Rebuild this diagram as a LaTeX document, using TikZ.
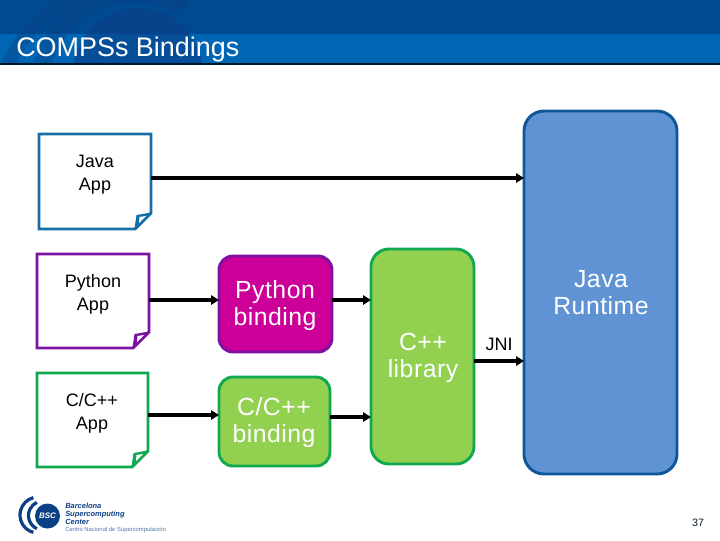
\documentclass[tikz,border=0pt]{standalone}
\usepackage{fontspec}
\setmainfont{Liberation Sans}
\newfontfamily\spacedfont[LetterSpace=2]{Liberation Sans}
\usetikzlibrary{arrows.meta}
\definecolor{hdark}{HTML}{004B90}
\definecolor{hlight}{HTML}{0066B4}
\definecolor{harc}{HTML}{0B3F86}
\definecolor{lblue}{HTML}{176FA8}
\definecolor{lpurple}{HTML}{7B12A0}
\definecolor{lgreen}{HTML}{12A850}
\definecolor{fgreen}{HTML}{92D050}
\definecolor{fmag}{HTML}{CC0099}
\definecolor{fblue}{HTML}{5F93D3}
\definecolor{lnavy}{HTML}{0F5698}
\definecolor{logob}{HTML}{0B3F86}
\tikzset{
  x=0.75pt,y=-0.75pt,
  note/.style={draw=#1,line width=2.2pt,fill=white,line join=miter},
  fold/.style={draw=#1,fill=#1,line width=0.8pt,line join=round},
  sliver/.style={fill=white},
  notetext/.style={text=black,font=\fontsize{13.5pt}{17.25pt}\selectfont,align=center,inner sep=0pt},
  blocktext/.style={text=white,font=\spacedfont\fontsize{18.6pt}{20.2pt}\selectfont,align=center,inner sep=0pt},
  blockbox/.style={line width=2.2pt,anchor=north west,inner sep=0pt,outer sep=0pt},
  conn/.style={line width=2.4pt,-{Triangle[length=6pt,width=7pt]}},
}
\begin{document}
\begin{tikzpicture}
\useasboundingbox (0,0) rectangle (720,540);
\fill[white] (0,0) rectangle (720,540);
% header
\fill[hdark] (0,0) rectangle (720,34);
\fill[hlight] (0,34) rectangle (720,63);
\begin{scope}
\clip (0,0) rectangle (720,63);
\draw[harc,line width=10.5pt,opacity=.4] ([shift={(180:127)}]125,115) arc[start angle=180,end angle=300,radius=127];
\draw[harc,line width=13pt,opacity=.4] ([shift={(180:96)}]135,90) arc[start angle=180,end angle=300,radius=96];
\fill[harc,opacity=.6] (138,72.5) circle (64.5);
\end{scope}
\fill[black!70!hdark] (0,63) rectangle (720,65);
\node[anchor=base west,inner sep=0pt,text=white,font=\fontsize{20.2pt}{22pt}\selectfont] (title) at (16,56) {COMPSs Bindings};
% notes
\path[note=lblue] (39,134) -- (151,134) -- (151,213) -- (135,229) -- (39,229) -- cycle;
\path[fold=lblue] (135,229) -- (137,215.5) -- (151,213) -- cycle;
\path[sliver] (139,223) -- (139.5,217) -- (146,216) -- cycle;
\coordinate (javaR) at (151,178);
\node[notetext] (javaapp) at (95,175) {Java\\App};
\path[note=lpurple] (37,254) -- (149,254) -- (149,332) -- (133,348) -- (37,348) -- cycle;
\path[fold=lpurple] (133,348) -- (135,334.5) -- (149,332) -- cycle;
\path[sliver] (137,342) -- (137.5,336) -- (144,335) -- cycle;
\coordinate (pyR) at (149,300);
\node[notetext] (pyapp) at (93,294) {Python\\App};
\path[note=lgreen] (37,373) -- (148,373) -- (148,451) -- (132,467) -- (37,467) -- cycle;
\path[fold=lgreen] (132,467) -- (134,453.5) -- (148,451) -- cycle;
\path[sliver] (136,461) -- (136.5,455) -- (143,454) -- cycle;
\coordinate (cR) at (148,415);
\node[notetext] (capp) at (92,413) {C/C++\\App};
% blocks
\node[blockbox,rounded corners=15pt,draw=lnavy,fill=fblue,minimum width=114.75pt,minimum height=272.25pt] (jr) at (524,111) {};
\node[blockbox,rounded corners=13.5pt,draw=lgreen,fill=fgreen,minimum width=77.25pt,minimum height=161.25pt] (cpp) at (371,249) {};
\node[blockbox,rounded corners=10.5pt,draw=lpurple,fill=fmag,minimum width=84.75pt,minimum height=72pt] (pyb) at (219,256) {};
\node[blockbox,rounded corners=10.5pt,draw=lgreen,fill=fgreen,minimum width=83.25pt,minimum height=66.75pt] (cb) at (219,377) {};
\node[blocktext] (jrt) at (601,293) {Java\\Runtime};
\node[blocktext] (cppt) at (423,358) {C++\\library};
\node[blocktext] (pybt) at (275,306) {Python\\binding};
\node[blocktext] (cbt) at (274,422.5) {C/C++\\binding};
\node[inner sep=0pt,text=black,font=\fontsize{13.5pt}{14pt}\selectfont] (jni) at (499,344) {JNI};
% connectors
\draw[conn] (javaR) -- (javaR -| jr.west);
\draw[conn] (pyR) -- (pyR -| pyb.west);
\draw[conn] (cR) -- (cR -| cb.west);
\coordinate (p1) at (pyb.east |- 0,300);
\draw[conn] (p1) -- (p1 -| cpp.west);
\coordinate (p2) at (cb.east |- 0,417);
\draw[conn] (p2) -- (p2 -| cpp.west);
\coordinate (p3) at (cpp.east |- 0,361);
\draw[conn] (p3) -- (p3 -| jr.west);
% logo
\fill[logob] (47.5,516) circle (12.5);
\draw[logob,line width=2.4pt] ([shift={(105:18)}]38,515) arc[start angle=105,end angle=255,radius=18];
\draw[logob,line width=2.4pt] ([shift={(115:14.5)}]43,515.5) arc[start angle=115,end angle=245,radius=14.5];
\node[text=white,inner sep=0pt,font=\bfseries\itshape\fontsize{6pt}{7pt}\selectfont] (bsc) at (47.5,516) {BSC};
\node[anchor=north west,inner sep=0pt,align=left,text=logob,font=\bfseries\itshape\fontsize{5.6pt}{6.2pt}\selectfont] (logot) at (65,502.5) {Barcelona\\Supercomputing\\Center};
\node[anchor=west,inner sep=0pt,text=logob!70,font=\fontsize{4.4pt}{5pt}\selectfont] (logos) at (65,529.5) {Centro Nacional de Supercomputación};
\node[inner sep=0pt,text=black!70!logob,font=\fontsize{8pt}{10pt}\selectfont] (num) at (698,523) {37};
\end{tikzpicture}
\end{document}
